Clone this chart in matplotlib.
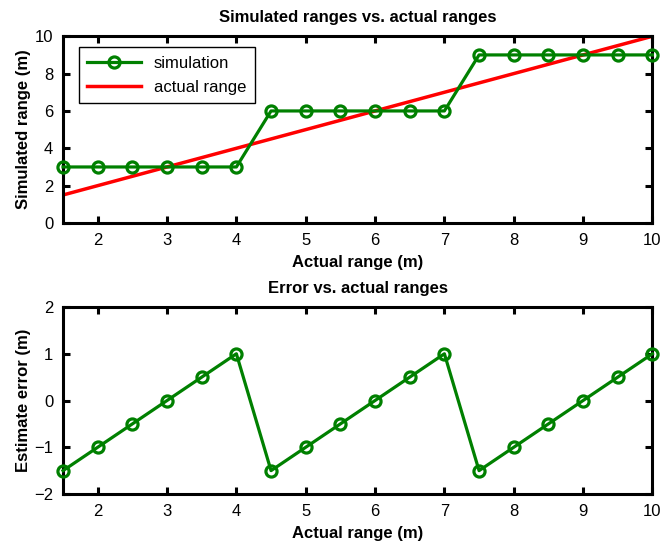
import numpy as np
import matplotlib
matplotlib.use("Agg")
import matplotlib.pyplot as plt

plt.rcParams['font.family'] = ['Liberation Sans', 'DejaVu Sans']

# Daten
actual = [1.5, 2, 2.5, 3, 3.5, 4, 4.5, 5, 5.5, 6, 6.5, 7, 7.5, 8, 8.5, 9, 9.5, 10]
simulated = [3, 3, 3, 3, 3, 3, 6, 6, 6, 6, 6, 6, 9, 9, 9, 9, 9, 9]
error = [-1.5, -1, -0.5, 0, 0.5, 1, -1.5, -1, -0.5, 0, 0.5, 1, -1.5, -1, -0.5, 0, 0.5, 1]
line_x = [1.5, 10]
line_y = [1.5, 10]

green = "#008000"

fig = plt.figure(figsize=(6.6, 5.46), dpi=100)
ax1 = fig.add_axes([0.0955, 0.5916, 0.893, 0.342])
ax2 = fig.add_axes([0.0955, 0.0952, 0.893, 0.3425])


def style(ax):
    for s in ax.spines.values():
        s.set_linewidth(2.2)
    ax.tick_params(direction="in", top=True, right=True, width=2.2, length=5,
                   labelsize=12, pad=7)
    ax.set_xlim(1.5, 10)
    ax.set_xticks(range(2, 11))
    ax.set_xlabel("Actual range (m)", fontsize=12, fontweight="bold", labelpad=5)
    ax.yaxis.set_label_coords(-0.055, 0.5)


# oberes Diagramm
ax1.plot(actual, simulated, color=green, lw=2.3, marker="o", ms=8,
         mfc="none", mew=2.3, label="simulation", clip_on=False, zorder=3)
ax1.plot(line_x, line_y, color="red", lw=2.5, label="actual range", zorder=2)
ax1.set_ylim(0, 10)
ax1.set_yticks(range(0, 11, 2))
ax1.set_ylabel("Simulated range (m)", fontsize=12, fontweight="bold")
style(ax1)
ax1.set_title("Simulated ranges vs. actual ranges", fontsize=12, fontweight="bold", pad=10)
leg = ax1.legend(loc="upper left", bbox_to_anchor=(0.027, 0.94), fontsize=12,
                 fancybox=False, framealpha=1, edgecolor="black", borderaxespad=0,
                 handlelength=3.2, borderpad=0.5, labelspacing=0.55)
leg.get_frame().set_linewidth(1)

# unteres Diagramm
ax2.plot(actual, error, color=green, lw=2.3, marker="o", ms=8,
         mfc="none", mew=2.3, clip_on=False, zorder=3)
ax2.set_ylim(-2, 2)
ax2.set_yticks([-2, -1, 0, 1, 2])
ax2.set_yticklabels(["\u22122", "\u22121", "0", "1", "2"])
ax2.set_ylabel("Estimate error (m)", fontsize=12, fontweight="bold")
style(ax2)
ax2.set_title("Error vs. actual ranges", fontsize=12, fontweight="bold", pad=10)

fig.savefig("out.png", dpi=100)
